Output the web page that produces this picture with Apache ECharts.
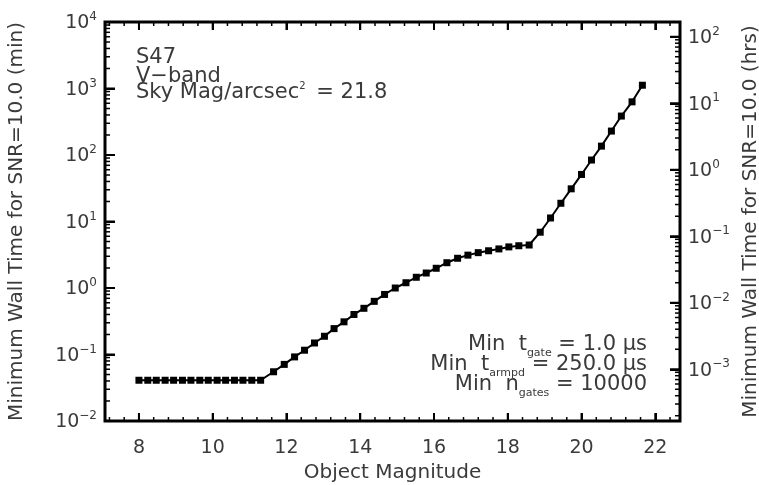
<!DOCTYPE html>
<html>
<head>
<meta charset="utf-8">
<script src="https://cdn.jsdelivr.net/npm/echarts@6/dist/echarts.min.js"></script>
<style>html,body{margin:0;padding:0;background:#fff;}#c{width:759px;height:485px;}</style>
</head>
<body>
<div id="c"></div>
<script>
// ---- data ----
const magnitudes = [8.00, 8.24, 8.47, 8.71, 8.94, 9.18, 9.41, 9.65, 9.88, 10.12, 10.35, 10.59, 10.82, 11.06, 11.30,
  11.65, 11.94, 12.22, 12.49, 12.76, 13.03, 13.29, 13.56, 13.83, 14.10, 14.38, 14.66, 14.95, 15.24, 15.52, 15.79,
  16.06, 16.35, 16.64, 16.92, 17.20, 17.48, 17.76, 18.03, 18.30, 18.58,
  18.88, 19.16, 19.44, 19.72, 20.00, 20.27, 20.54, 20.81, 21.08, 21.37, 21.65];
const wallTimeMin = [0.041, 0.041, 0.041, 0.041, 0.041, 0.041, 0.041, 0.041, 0.041, 0.041, 0.041, 0.041, 0.041, 0.041, 0.041,
  0.055, 0.071, 0.092, 0.116, 0.149, 0.188, 0.245, 0.31, 0.40, 0.495, 0.63, 0.80, 1.0, 1.2, 1.45, 1.68,
  1.98, 2.4, 2.8, 3.12, 3.4, 3.63, 3.87, 4.15, 4.32, 4.43,
  6.9, 11.3, 18.8, 31, 51, 84, 136, 229, 385, 630, 1120];
const xMajorTicks = [8, 10, 12, 14, 16, 18, 20, 22];
const xMinorTicks = [7.2, 7.6, 8.4, 8.8, 9.2, 9.6, 10.4, 10.8, 11.2, 11.6, 12.4, 12.8, 13.2, 13.6, 14.4, 14.8, 15.2, 15.6,
  16.4, 16.8, 17.2, 17.6, 18.4, 18.8, 19.2, 19.6, 20.4, 20.8, 21.2, 21.6, 22.4];
const leftTicksMin = [0.01, 0.1, 1, 10, 100, 1000, 10000];      // minutes
const rightTicksHrs = [0.001, 0.01, 0.1, 1, 10, 100];            // hours
const xRange = [7.08, 22.67];
const yRangeMin = [0.01, 10000];
const minutesPerHour = 60;

// ---- helpers ----
const FONT = 'DejaVu Sans';
const TXT = '#3a3a3a';
const log10 = Math.log10;
function pow10Label(v) {
  const n = Math.round(log10(v));
  const e = n < 0 ? '\u2212' + Math.abs(n) : String(n);
  return '{b|10}{s|' + e + '}';
}
const powRich = {
  b: { fontSize: 19, fontFamily: FONT, color: TXT, verticalAlign: 'bottom', lineHeight: 22 },
  s: { fontSize: 12, fontFamily: FONT, color: TXT, verticalAlign: 'bottom', lineHeight: 12, padding: [0, 0, 10, 0] }
};
function logMinorValues(lo, hi) { // 2..9 x 10^n strictly inside (lo, hi)
  const out = [];
  for (let n = Math.floor(log10(lo)) - 1; n <= Math.ceil(log10(hi)) + 1; n++) {
    for (let k = 2; k <= 9; k++) {
      const v = k * Math.pow(10, n);
      if (v > lo * 1.0001 && v < hi * 0.9999) out.push(v);
    }
  }
  return out;
}
const W = 759, H = 485;
const G = { left: 105, right: 79, top: 22, bottom: 64 };
const yTop = G.top, yBot = H - G.bottom, xLeft = G.left, xRight = W - G.right;
const hrsRange = [yRangeMin[0] / minutesPerHour, yRangeMin[1] / minutesPerHour];

const titleStyle = { fontSize: 20, fontFamily: FONT, color: TXT };
const annB = { fontSize: 21, fontFamily: FONT, fill: TXT, verticalAlign: 'bottom', lineHeight: 24, padding: [0, 0, 4, 0] };
const annS = { fontSize: 11, fontFamily: FONT, fill: TXT, verticalAlign: 'bottom', lineHeight: 12 };
function majorTick(vals, len) {
  return { show: true, inside: true, length: len, customValues: vals, lineStyle: { color: '#000', width: 2 } };
}

const textGraphics = [
  { type: 'text', left: 136, top: 47, style: { text: 'S47', fontSize: 21, fontFamily: FONT, fill: TXT } },
  { type: 'text', left: 136, top: 66, style: { text: 'V\u2212band', fontSize: 21, fontFamily: FONT, fill: TXT } },
  { type: 'text', left: 136, top: 81, style: {
      text: '{b|Sky Mag/arcsec}{s|2}{b| = 21.8}',
      rich: {
        b: { fontSize: 21, fontFamily: FONT, fill: TXT, verticalAlign: 'bottom', lineHeight: 24 },
        s: { fontSize: 10, fontFamily: FONT, fill: TXT, verticalAlign: 'bottom', lineHeight: 10, padding: [0, 4, 12, 0] }
      } } },
  { type: 'text', right: 112, top: 334, style: { text: '{b|Min  t}{s|gate}{b| = 1.0 \u03bcs}', rich: { b: annB, s: annS } } },
  { type: 'text', right: 112, top: 354, style: { text: '{b|Min  t}{s|armpd}{b| = 250.0 \u03bcs}', rich: { b: annB, s: annS } } },
  { type: 'text', right: 112, top: 374, style: { text: '{b|Min  n}{s|gates}{b| = 10000}', rich: { b: annB, s: annS } } }
];

const chart = echarts.init(document.getElementById('c'));
chart.setOption({
  animation: false,
  backgroundColor: '#fff',
  grid: [Object.assign({ show: true, borderColor: '#000', borderWidth: 3, containLabel: false, outerBoundsMode: 'none' }, G)],
  xAxis: [
    { type: 'value', position: 'bottom', min: xRange[0], max: xRange[1], splitLine: { show: false },
      axisLine: { show: false, onZero: false }, axisTick: majorTick(xMajorTicks, 8),
      axisLabel: { customValues: xMajorTicks, fontSize: 19, fontFamily: FONT, color: TXT, margin: 18 },
      name: 'Object Magnitude', nameLocation: 'middle', nameGap: 40, nameTextStyle: titleStyle },
    { type: 'value', position: 'top', min: xRange[0], max: xRange[1], splitLine: { show: false },
      axisLine: { show: false, onZero: false }, axisTick: majorTick(xMajorTicks, 8), axisLabel: { show: false } }
  ],
  yAxis: [
    { type: 'log', logBase: 10, position: 'left', min: yRangeMin[0], max: yRangeMin[1], splitLine: { show: false },
      axisLine: { show: false, onZero: false }, axisTick: majorTick(leftTicksMin, 10),
      axisLabel: { customValues: leftTicksMin, margin: 8, formatter: v => pow10Label(v), rich: powRich },
      name: 'Minimum Wall Time for SNR=10.0 (min)', nameLocation: 'middle', nameGap: 78, nameRotate: 90,
      nameTextStyle: titleStyle },
    { type: 'log', logBase: 10, position: 'right', min: hrsRange[0], max: hrsRange[1], splitLine: { show: false },
      axisLine: { show: false, onZero: false }, axisTick: majorTick(rightTicksHrs, 10),
      axisLabel: { customValues: rightTicksHrs, margin: 8, formatter: v => pow10Label(v), rich: powRich },
      name: 'Minimum Wall Time for SNR=10.0 (hrs)', nameLocation: 'middle', nameGap: 54, nameRotate: 90,
      nameTextStyle: titleStyle }
  ],
  series: [{
    type: 'line', xAxisIndex: 0, yAxisIndex: 0,
    data: magnitudes.map((m, i) => [m, wallTimeMin[i]]),
    symbol: 'rect', symbolSize: 7, showSymbol: true, z: 3,
    itemStyle: { color: '#000' },
    lineStyle: { color: '#000', width: 2 }
  }],
  graphic: textGraphics
});

// IDL-style inward tick marks on all four sides, placed through the chart's own axes
function seg(x1, y1, x2, y2, w) {
  return { type: 'line', silent: true, z: 10, shape: { x1: x1, y1: y1, x2: x2, y2: y2 },
    style: { stroke: '#000', lineWidth: w } };
}
function toPx(finder, v, fallback) {
  let p = NaN;
  try { p = chart.convertToPixel(finder, v); } catch (e) { p = NaN; }
  return (typeof p === 'number' && isFinite(p)) ? p : fallback(v);
}
const fx = v => xLeft + (v - xRange[0]) / (xRange[1] - xRange[0]) * (xRight - xLeft);
const fyL = v => yBot - (log10(v) - log10(yRangeMin[0])) / (log10(yRangeMin[1]) - log10(yRangeMin[0])) * (yBot - yTop);
const fyR = v => yBot - (log10(v) - log10(hrsRange[0])) / (log10(hrsRange[1]) - log10(hrsRange[0])) * (yBot - yTop);
const ticks = [];
xMajorTicks.forEach(v => {
  const p = toPx({ xAxisIndex: 0 }, v, fx);
  ticks.push(seg(p, yBot, p, yBot - 8, 2), seg(p, yTop, p, yTop + 8, 2));
});
xMinorTicks.forEach(v => {
  const p = toPx({ xAxisIndex: 0 }, v, fx);
  ticks.push(seg(p, yBot, p, yBot - 4, 1.5), seg(p, yTop, p, yTop + 4, 1.5));
});
leftTicksMin.forEach(v => {
  const p = toPx({ yAxisIndex: 0 }, v, fyL);
  ticks.push(seg(xLeft, p, xLeft + 10, p, 2));
});
logMinorValues(yRangeMin[0], yRangeMin[1]).forEach(v => {
  const p = toPx({ yAxisIndex: 0 }, v, fyL);
  ticks.push(seg(xLeft, p, xLeft + 5, p, 1.5));
});
rightTicksHrs.forEach(v => {
  const p = toPx({ yAxisIndex: 1 }, v, fyR);
  ticks.push(seg(xRight, p, xRight - 10, p, 2));
});
logMinorValues(hrsRange[0], hrsRange[1]).forEach(v => {
  const p = toPx({ yAxisIndex: 1 }, v, fyR);
  ticks.push(seg(xRight, p, xRight - 5, p, 1.5));
});
chart.setOption({ graphic: textGraphics.concat(ticks) });
</script>
</body>
</html>
